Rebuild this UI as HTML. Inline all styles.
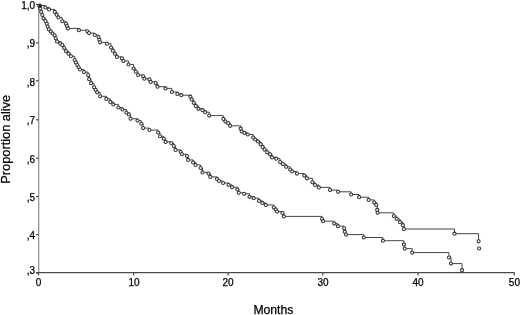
<!DOCTYPE html>
<html><head><meta charset="utf-8"><style>
html,body{margin:0;padding:0;background:#fff;}
body{width:520px;height:315px;overflow:hidden;}
svg{display:block;will-change:transform;}
text{font-family:"Liberation Sans",sans-serif;fill:#000;stroke:#000;stroke-width:0.25;}
.t text{font-size:10px;}
.ax line{stroke:#4a4a4a;stroke-width:1.2;}
.ax line.ya{stroke:#8a8a8a;stroke-width:1.2;}
.c path{fill:none;stroke:#444;stroke-width:1;}
.c circle{fill:#fff;stroke:#383838;stroke-width:1.1;}
</style></head><body>
<svg width="520" height="315" viewBox="0 0 520 315">
<g class="ax">
<line class="ya" x1="38.7" y1="4" x2="38.7" y2="273.5"/>
<line x1="36" y1="272.7" x2="514.7" y2="272.7"/>
<line x1="36" y1="4.5" x2="38.5" y2="4.5"/><line x1="36" y1="42.8" x2="38.5" y2="42.8"/><line x1="36" y1="80.8" x2="38.5" y2="80.8"/><line x1="36" y1="119.8" x2="38.5" y2="119.8"/><line x1="36" y1="158.3" x2="38.5" y2="158.3"/><line x1="36" y1="196.5" x2="38.5" y2="196.5"/><line x1="36" y1="234.6" x2="38.5" y2="234.6"/><line x1="36" y1="273.0" x2="38.5" y2="273.0"/><line x1="38.5" y1="272.7" x2="38.5" y2="275.5"/><line x1="133.6" y1="272.7" x2="133.6" y2="275.5"/><line x1="228.2" y1="272.7" x2="228.2" y2="275.5"/><line x1="322.8" y1="272.7" x2="322.8" y2="275.5"/><line x1="418.0" y1="272.7" x2="418.0" y2="275.5"/><line x1="514.2" y1="272.7" x2="514.2" y2="275.5"/>
</g>
<g class="t"><text x="35.2" y="9.2" text-anchor="end">1,0</text><text x="35.2" y="46.6" text-anchor="end">,9</text><text x="35.2" y="85.6" text-anchor="end">,8</text><text x="35.2" y="124.2" text-anchor="end">,7</text><text x="35.2" y="162.9" text-anchor="end">,6</text><text x="35.2" y="200.9" text-anchor="end">,5</text><text x="35.2" y="239.0" text-anchor="end">,4</text><text x="35.2" y="273.6" text-anchor="end">,3</text><text x="38.5" y="285.5" text-anchor="middle">0</text><text x="134.0" y="285.5" text-anchor="middle">10</text><text x="228.0" y="285.5" text-anchor="middle">20</text><text x="323.0" y="285.5" text-anchor="middle">30</text><text x="418.1" y="285.5" text-anchor="middle">40</text><text x="514.4" y="285.5" text-anchor="middle">50</text></g>
<text x="273.4" y="314" font-size="12.2" text-anchor="middle">Months</text>
<text transform="translate(10.3,139.3) rotate(-90)" font-size="12.8" text-anchor="middle">Proportion alive</text>
<g class="c">
<path d="M38.5 4.5 L39.75 4.5 L39.75 5.5 L45.4 5.5 L45.4 7.5 L49 7.5 L49 9.4 L54.75 9.4 L54.75 11.9 L56.62 11.9 L56.62 14.7 L58.5 14.7 L58.5 17.5 L62.25 17.5 L62.25 21.25 L66 21.25 L66 23.75 L66.95 23.75 L66.95 26.07 L67.9 26.07 L67.9 28.4 L78.9 28.4 L78.9 30.2 L87.25 30.2 L87.25 31.3 L89 31.3 L89 33.1 L94.75 33.1 L94.75 35 L98.5 35 L98.5 37 L99.25 37 L99.25 39.65 L100 39.65 L100 42.3 L106.9 42.3 L106.9 43.75 L111 43.75 L111 47.5 L112.97 47.5 L112.97 50.63 L114.93 50.63 L114.93 53.77 L116.9 53.77 L116.9 56.9 L121.25 56.9 L121.9 56.9 L121.9 58.3 L123.4 58.3 L123.4 61 L128.5 61 L128.5 64.5 L133.5 64.5 L133.5 68.5 L135.8 68.5 L135.8 71.75 L138.1 71.75 L138.1 75 L143.1 75 L143.1 76.3 L144.4 76.3 L144.4 78.7 L149.4 78.7 L149.4 79.4 L150.6 79.4 L150.6 81.9 L155.6 81.9 L155.6 83.1 L157.5 83.1 L157.5 86.7 L165.5 86.7 L165.5 88.4 L171.9 88.4 L171.9 92 L177.4 92 L177.4 93.9 L181.3 93.9 L181.3 95.2 L189.7 95.2 L190.4 95.2 L190.4 96.7 L191.7 96.7 L191.7 99.4 L193.7 99.4 L193.7 102.8 L195.8 102.8 L195.8 105.9 L198.5 105.9 L198.5 108.8 L202.5 108.8 L202.5 110.2 L205.2 110.2 L205.2 112.2 L209.2 112.2 L209.2 115.6 L222.7 115.6 L223.4 115.6 L223.4 118.9 L225.4 118.9 L225.4 121.6 L228.1 121.6 L228.1 123 L230.1 123 L230.1 125.8 L239.7 125.8 L240.7 125.8 L240.7 128.7 L241.7 128.7 L241.7 131.4 L244.4 131.4 L244.4 132.8 L247.8 132.8 L247.8 134.5 L253.2 134.5 L253.2 137.5 L255.2 137.5 L255.2 139.5 L257.9 139.5 L257.9 141.5 L260.6 141.5 L260.6 144.2 L262.6 144.2 L262.6 146.9 L264.6 146.9 L264.6 149.6 L267.3 149.6 L267.3 152.3 L270 152.3 L270 154.3 L272 154.3 L272 157.4 L276.1 157.4 L276.1 158.7 L280.1 158.7 L280.1 162.1 L282.8 162.1 L282.8 164.1 L286.2 164.1 L286.2 166.8 L290.2 166.8 L290.2 169.5 L292.2 169.5 L292.2 171.5 L296.9 171.5 L296.9 173.6 L304.3 173.6 L304.3 175.6 L307 175.6 L307 178.3 L312.4 178.3 L312.4 182.3 L315.1 182.3 L315.1 185 L318.8 185 L318.8 187.4 L329.1 187.4 L330.1 187.4 L330.1 190.1 L337.2 190.1 L338.1 190.1 L338.1 191.8 L350.7 191.8 L351.1 191.8 L351.1 194.5 L358 194.5 L359.1 194.5 L359.1 197.2 L367.5 197.2 L368.6 197.2 L368.6 199.9 L373.5 199.9 L374.2 199.9 L374.2 202.6 L376.2 202.6 L376.2 204.9 L377.2 204.9 L377.2 209.9 L377.6 209.9 L377.6 212.8 L392.8 212.8 L393.8 212.8 L393.8 216 L396.8 216 L396.8 219 L400 219 L400 222.2 L402.9 222.2 L402.9 225.2 L403.9 225.2 L403.9 229 L454.6 229 L454.5 229 L454.5 233.7 L478.7 233.7 L478.6 233.7 L478.6 241.3"/>
<circle cx="39.75" cy="5.5" r="1.55"/><circle cx="45.4" cy="7.5" r="1.55"/><circle cx="49" cy="9.4" r="1.55"/><circle cx="54.75" cy="11.9" r="1.55"/><circle cx="56.62" cy="14.7" r="1.55"/><circle cx="58.5" cy="17.5" r="1.55"/><circle cx="62.25" cy="21.25" r="1.55"/><circle cx="66" cy="23.75" r="1.55"/><circle cx="66.95" cy="26.07" r="1.55"/><circle cx="67.9" cy="28.4" r="1.55"/><circle cx="78.9" cy="30.2" r="1.55"/><circle cx="87.25" cy="31.3" r="1.55"/><circle cx="89" cy="33.1" r="1.55"/><circle cx="94.75" cy="35" r="1.55"/><circle cx="98.5" cy="37" r="1.55"/><circle cx="99.25" cy="39.65" r="1.55"/><circle cx="100" cy="42.3" r="1.55"/><circle cx="106.9" cy="43.75" r="1.55"/><circle cx="111" cy="47.5" r="1.55"/><circle cx="112.97" cy="50.63" r="1.55"/><circle cx="114.93" cy="53.77" r="1.55"/><circle cx="116.9" cy="56.9" r="1.55"/><circle cx="121.9" cy="58.3" r="1.55"/><circle cx="123.4" cy="61" r="1.55"/><circle cx="128.5" cy="64.5" r="1.55"/><circle cx="133.5" cy="68.5" r="1.55"/><circle cx="135.8" cy="71.75" r="1.55"/><circle cx="138.1" cy="75" r="1.55"/><circle cx="143.1" cy="76.3" r="1.55"/><circle cx="144.4" cy="78.7" r="1.55"/><circle cx="149.4" cy="79.4" r="1.55"/><circle cx="150.6" cy="81.9" r="1.55"/><circle cx="155.6" cy="83.1" r="1.55"/><circle cx="157.5" cy="86.7" r="1.55"/><circle cx="165.5" cy="88.4" r="1.55"/><circle cx="171.9" cy="92" r="1.55"/><circle cx="177.4" cy="93.9" r="1.55"/><circle cx="181.3" cy="95.2" r="1.55"/><circle cx="190.4" cy="96.7" r="1.55"/><circle cx="191.7" cy="99.4" r="1.55"/><circle cx="193.7" cy="102.8" r="1.55"/><circle cx="195.8" cy="105.9" r="1.55"/><circle cx="198.5" cy="108.8" r="1.55"/><circle cx="202.5" cy="110.2" r="1.55"/><circle cx="205.2" cy="112.2" r="1.55"/><circle cx="209.2" cy="115.6" r="1.55"/><circle cx="223.4" cy="118.9" r="1.55"/><circle cx="225.4" cy="121.6" r="1.55"/><circle cx="228.1" cy="123" r="1.55"/><circle cx="230.1" cy="125.8" r="1.55"/><circle cx="240.7" cy="128.7" r="1.55"/><circle cx="241.7" cy="131.4" r="1.55"/><circle cx="244.4" cy="132.8" r="1.55"/><circle cx="247.8" cy="134.5" r="1.55"/><circle cx="253.2" cy="137.5" r="1.55"/><circle cx="255.2" cy="139.5" r="1.55"/><circle cx="257.9" cy="141.5" r="1.55"/><circle cx="260.6" cy="144.2" r="1.55"/><circle cx="262.6" cy="146.9" r="1.55"/><circle cx="264.6" cy="149.6" r="1.55"/><circle cx="267.3" cy="152.3" r="1.55"/><circle cx="270" cy="154.3" r="1.55"/><circle cx="272" cy="157.4" r="1.55"/><circle cx="276.1" cy="158.7" r="1.55"/><circle cx="280.1" cy="162.1" r="1.55"/><circle cx="282.8" cy="164.1" r="1.55"/><circle cx="286.2" cy="166.8" r="1.55"/><circle cx="290.2" cy="169.5" r="1.55"/><circle cx="292.2" cy="171.5" r="1.55"/><circle cx="296.9" cy="173.6" r="1.55"/><circle cx="304.3" cy="175.6" r="1.55"/><circle cx="307" cy="178.3" r="1.55"/><circle cx="312.4" cy="182.3" r="1.55"/><circle cx="315.1" cy="185" r="1.55"/><circle cx="318.8" cy="187.4" r="1.55"/><circle cx="330.1" cy="190.1" r="1.55"/><circle cx="338.1" cy="191.8" r="1.55"/><circle cx="351.1" cy="194.5" r="1.55"/><circle cx="359.1" cy="197.2" r="1.55"/><circle cx="368.6" cy="199.9" r="1.55"/><circle cx="374.2" cy="202.6" r="1.55"/><circle cx="376.2" cy="204.9" r="1.55"/><circle cx="377.2" cy="209.9" r="1.55"/><circle cx="377.6" cy="212.8" r="1.55"/><circle cx="393.8" cy="216" r="1.55"/><circle cx="396.8" cy="219" r="1.55"/><circle cx="400" cy="222.2" r="1.55"/><circle cx="402.9" cy="225.2" r="1.55"/><circle cx="403.9" cy="229" r="1.55"/><circle cx="454.5" cy="233.7" r="1.55"/><circle cx="478.6" cy="241.3" r="1.55"/><circle cx="479.1" cy="248.5" r="1.55"/>
<path d="M38.5 4.5 L39.3 4.5 L39.3 5.8 L40.3 5.8 L40.3 8.5 L41.2 8.5 L41.2 11.8 L42.3 11.8 L42.3 15 L43.5 15 L43.5 18.5 L45.5 18.5 L45.5 21 L46.8 21 L46.8 23.8 L47.6 23.8 L47.6 26.5 L48.9 26.5 L48.9 29.3 L50.8 29.3 L50.8 31.5 L52.6 31.5 L52.6 33.5 L54.5 33.5 L54.5 35.3 L55.8 35.3 L55.8 38.3 L57 38.3 L57 41.5 L60.2 41.5 L60.2 43.4 L62.25 43.4 L62.25 45 L64.12 45 L64.12 48.12 L66 48.12 L66 51.25 L68.5 51.25 L68.5 53.75 L71 53.75 L71 56.25 L74.75 56.25 L74.75 60 L76 60 L76 62.5 L77.25 62.5 L77.25 65 L78.62 65 L78.62 67.25 L80 67.25 L80 69.5 L84 69.5 L84 72.1 L88.1 72.1 L88.1 75.1 L89.1 75.1 L89.1 79.2 L91.1 79.2 L91.1 83.2 L94.1 83.2 L94.1 87.3 L95.65 87.3 L95.65 89.8 L97.2 89.8 L97.2 92.3 L100.2 92.3 L100.2 96.3 L106.3 96.3 L106.3 98.9 L110.3 98.9 L110.3 101.9 L113.3 101.9 L113.3 104.4 L118.4 104.4 L118.4 107.5 L122.4 107.5 L122.4 109.5 L126.4 109.5 L126.4 112.5 L128.75 112.5 L128.75 114.4 L130.6 114.4 L130.6 118.75 L137.5 118.75 L137.5 120.6 L141.25 120.6 L141.25 123.75 L143.1 123.75 L143.1 128.1 L149.4 128.1 L149.4 130 L156.9 130 L158.1 130 L158.1 132.5 L160 132.5 L160 136.25 L163.75 136.25 L163.75 138.75 L165.6 138.75 L165.6 141.9 L171.2 141.9 L171.2 143 L173.75 143 L173.75 146.1 L175.6 146.1 L175.6 149.9 L180.6 149.9 L180.6 151.75 L181.9 151.75 L181.9 154.25 L186.9 154.25 L186.9 156.1 L188.1 156.1 L188.1 159.9 L193.1 159.9 L193.1 162.4 L195.6 162.4 L195.6 164.9 L200.6 164.9 L200.6 168 L202.5 168 L202.5 172.4 L208.5 172.4 L208.5 173.6 L210.3 173.6 L210.3 176.9 L217 176.9 L217 178.9 L219 178.9 L219 181 L223.1 181 L223.1 183 L228.6 183 L228.6 184.8 L232 184.8 L232 187.2 L237.4 187.2 L237.4 189.4 L238.8 189.4 L238.8 192.8 L244.2 192.8 L244.2 193.8 L249.5 193.8 L249.5 196.8 L253.6 196.8 L253.6 198.2 L259 198.2 L259 200.9 L262.3 200.9 L262.3 202.9 L265.7 202.9 L265.7 204.9 L272.4 204.9 L273.8 204.9 L273.8 207.6 L275.8 207.6 L275.8 209.6 L277.1 209.6 L277.1 211.6 L282.5 211.6 L282.5 213 L283.9 213 L283.9 216.4 L321.1 216.4 L322.1 216.4 L322.1 219.1 L323.1 219.1 L323.1 221.2 L333.2 221.2 L334.2 221.2 L334.2 223.6 L337.9 223.6 L337.9 226.2 L344.2 226.2 L344.2 228.3 L344.8 228.3 L344.8 231.7 L346 231.7 L346 234.6 L363.8 234.6 L363.8 234.6 L363.8 237.5 L382.3 237.5 L382.9 237.5 L382.9 240.7 L403.3 240.7 L403.9 240.7 L403.9 244.4 L404.7 244.4 L404.7 248.6 L411.8 248.6 L412.2 248.6 L412.2 252.6 L449 252.6 L449 252.6 L449 257.5 L451 257.5 L451 263.6 L462 263.6 L462 263.6 L462 270.2"/>
<circle cx="39.3" cy="5.8" r="1.55"/><circle cx="40.3" cy="8.5" r="1.55"/><circle cx="41.2" cy="11.8" r="1.55"/><circle cx="42.3" cy="15" r="1.55"/><circle cx="43.5" cy="18.5" r="1.55"/><circle cx="45.5" cy="21" r="1.55"/><circle cx="46.8" cy="23.8" r="1.55"/><circle cx="47.6" cy="26.5" r="1.55"/><circle cx="48.9" cy="29.3" r="1.55"/><circle cx="50.8" cy="31.5" r="1.55"/><circle cx="52.6" cy="33.5" r="1.55"/><circle cx="54.5" cy="35.3" r="1.55"/><circle cx="55.8" cy="38.3" r="1.55"/><circle cx="57" cy="41.5" r="1.55"/><circle cx="60.2" cy="43.4" r="1.55"/><circle cx="62.25" cy="45" r="1.55"/><circle cx="64.12" cy="48.12" r="1.55"/><circle cx="66" cy="51.25" r="1.55"/><circle cx="68.5" cy="53.75" r="1.55"/><circle cx="71" cy="56.25" r="1.55"/><circle cx="74.75" cy="60" r="1.55"/><circle cx="76" cy="62.5" r="1.55"/><circle cx="77.25" cy="65" r="1.55"/><circle cx="78.62" cy="67.25" r="1.55"/><circle cx="80" cy="69.5" r="1.55"/><circle cx="84" cy="72.1" r="1.55"/><circle cx="88.1" cy="75.1" r="1.55"/><circle cx="89.1" cy="79.2" r="1.55"/><circle cx="91.1" cy="83.2" r="1.55"/><circle cx="94.1" cy="87.3" r="1.55"/><circle cx="95.65" cy="89.8" r="1.55"/><circle cx="97.2" cy="92.3" r="1.55"/><circle cx="100.2" cy="96.3" r="1.55"/><circle cx="106.3" cy="98.9" r="1.55"/><circle cx="110.3" cy="101.9" r="1.55"/><circle cx="113.3" cy="104.4" r="1.55"/><circle cx="118.4" cy="107.5" r="1.55"/><circle cx="122.4" cy="109.5" r="1.55"/><circle cx="126.4" cy="112.5" r="1.55"/><circle cx="128.75" cy="114.4" r="1.55"/><circle cx="130.6" cy="118.75" r="1.55"/><circle cx="137.5" cy="120.6" r="1.55"/><circle cx="141.25" cy="123.75" r="1.55"/><circle cx="143.1" cy="128.1" r="1.55"/><circle cx="149.4" cy="130" r="1.55"/><circle cx="158.1" cy="132.5" r="1.55"/><circle cx="160" cy="136.25" r="1.55"/><circle cx="163.75" cy="138.75" r="1.55"/><circle cx="165.6" cy="141.9" r="1.55"/><circle cx="171.2" cy="143" r="1.55"/><circle cx="173.75" cy="146.1" r="1.55"/><circle cx="175.6" cy="149.9" r="1.55"/><circle cx="180.6" cy="151.75" r="1.55"/><circle cx="181.9" cy="154.25" r="1.55"/><circle cx="186.9" cy="156.1" r="1.55"/><circle cx="188.1" cy="159.9" r="1.55"/><circle cx="193.1" cy="162.4" r="1.55"/><circle cx="195.6" cy="164.9" r="1.55"/><circle cx="200.6" cy="168" r="1.55"/><circle cx="202.5" cy="172.4" r="1.55"/><circle cx="208.5" cy="173.6" r="1.55"/><circle cx="210.3" cy="176.9" r="1.55"/><circle cx="217" cy="178.9" r="1.55"/><circle cx="219" cy="181" r="1.55"/><circle cx="223.1" cy="183" r="1.55"/><circle cx="228.6" cy="184.8" r="1.55"/><circle cx="232" cy="187.2" r="1.55"/><circle cx="237.4" cy="189.4" r="1.55"/><circle cx="238.8" cy="192.8" r="1.55"/><circle cx="244.2" cy="193.8" r="1.55"/><circle cx="249.5" cy="196.8" r="1.55"/><circle cx="253.6" cy="198.2" r="1.55"/><circle cx="259" cy="200.9" r="1.55"/><circle cx="262.3" cy="202.9" r="1.55"/><circle cx="265.7" cy="204.9" r="1.55"/><circle cx="273.8" cy="207.6" r="1.55"/><circle cx="275.8" cy="209.6" r="1.55"/><circle cx="277.1" cy="211.6" r="1.55"/><circle cx="282.5" cy="213" r="1.55"/><circle cx="283.9" cy="216.4" r="1.55"/><circle cx="322.1" cy="219.1" r="1.55"/><circle cx="323.1" cy="221.2" r="1.55"/><circle cx="334.2" cy="223.6" r="1.55"/><circle cx="337.9" cy="226.2" r="1.55"/><circle cx="344.2" cy="228.3" r="1.55"/><circle cx="344.8" cy="231.7" r="1.55"/><circle cx="346" cy="234.6" r="1.55"/><circle cx="363.8" cy="237.5" r="1.55"/><circle cx="382.9" cy="240.7" r="1.55"/><circle cx="403.9" cy="244.4" r="1.55"/><circle cx="404.7" cy="248.6" r="1.55"/><circle cx="412.2" cy="252.6" r="1.55"/><circle cx="449" cy="257.5" r="1.55"/><circle cx="451" cy="263.6" r="1.55"/><circle cx="462" cy="270.2" r="1.55"/>
</g>
<circle cx="40.2" cy="6" r="1.7" fill="#222"/>
</svg>
</body></html>
